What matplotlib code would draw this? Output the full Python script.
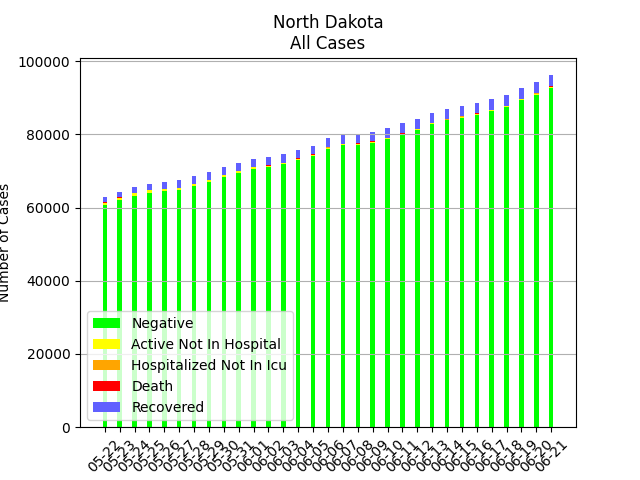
import matplotlib
matplotlib.use("Agg")
import matplotlib.pyplot as plt
import numpy as np

# dates shown on the x axis
dates = ["05-22", "05-23", "05-24", "05-25", "05-26", "05-27", "05-28", "05-29",
         "05-30", "05-31", "06-01", "06-02", "06-03", "06-04", "06-05", "06-06",
         "06-07", "06-08", "06-09", "06-10", "06-11", "06-12", "06-13", "06-14",
         "06-15", "06-16", "06-17", "06-18", "06-19", "06-20", "06-21"]

negative = [60650, 61980, 63170, 64100, 64500, 64880, 65960, 67020, 68490, 69420,
            70620, 71010, 71800, 73000, 74060, 76060, 76990, 77150, 77670, 78730,
            79890, 81130, 82740, 83810, 84600, 85390, 86320, 87390, 89270, 90860,
            92730]
active = [700, 720, 690, 650, 560, 520, 500, 480, 460, 440, 430, 410, 390, 370,
          350, 330, 320, 300, 290, 280, 270, 260, 250, 250, 260, 260, 280, 290,
          300, 300, 300]
hospitalized = [30, 32, 30, 28, 28, 27, 26, 25, 24, 25, 26, 27, 26, 25, 27, 28,
                28, 29, 30, 29, 28, 27, 28, 30, 31, 30, 32, 31, 30, 29, 30]
death = [51, 52, 54, 56, 57, 59, 60, 61, 63, 64, 66, 67, 68, 68, 69, 70, 71, 72,
         73, 74, 74, 74, 74, 75, 75, 76, 76, 77, 77, 78, 78]
recovered = [1536, 1561, 1644, 1723, 1836, 1914, 1991, 2045, 2100, 2149, 2192,
             2241, 2293, 2360, 2414, 2480, 2528, 2582, 2623, 2675, 2723, 2763,
             2801, 2821, 2841, 2880, 2889, 2908, 2932, 2986, 3030]

series = [
    ("Negative", negative, "#00ff00"),
    ("Active Not In Hospital", active, "#ffff00"),
    ("Hospitalized Not In Icu", hospitalized, "#ffa500"),
    ("Death", death, "#ff0000"),
    ("Recovered", recovered, "#6060ff"),
]

fig, ax = plt.subplots(figsize=(6.4, 4.8), dpi=100)
x = np.arange(len(dates))
bottom = np.zeros(len(dates))
for label, vals, color in series:
    vals = np.array(vals, dtype=float)
    ax.bar(x, vals, 0.3, bottom=bottom, color=color, label=label)
    bottom += vals

ax.set_xticks(x)
ax.set_xticklabels(dates, rotation=45)
ax.set_ylabel("Number of Cases")
ax.set_title("North Dakota\nAll Cases")
ax.yaxis.grid(True, color="#b0b0b0")
ax.legend(loc="lower left")

plt.savefig("out.png")
